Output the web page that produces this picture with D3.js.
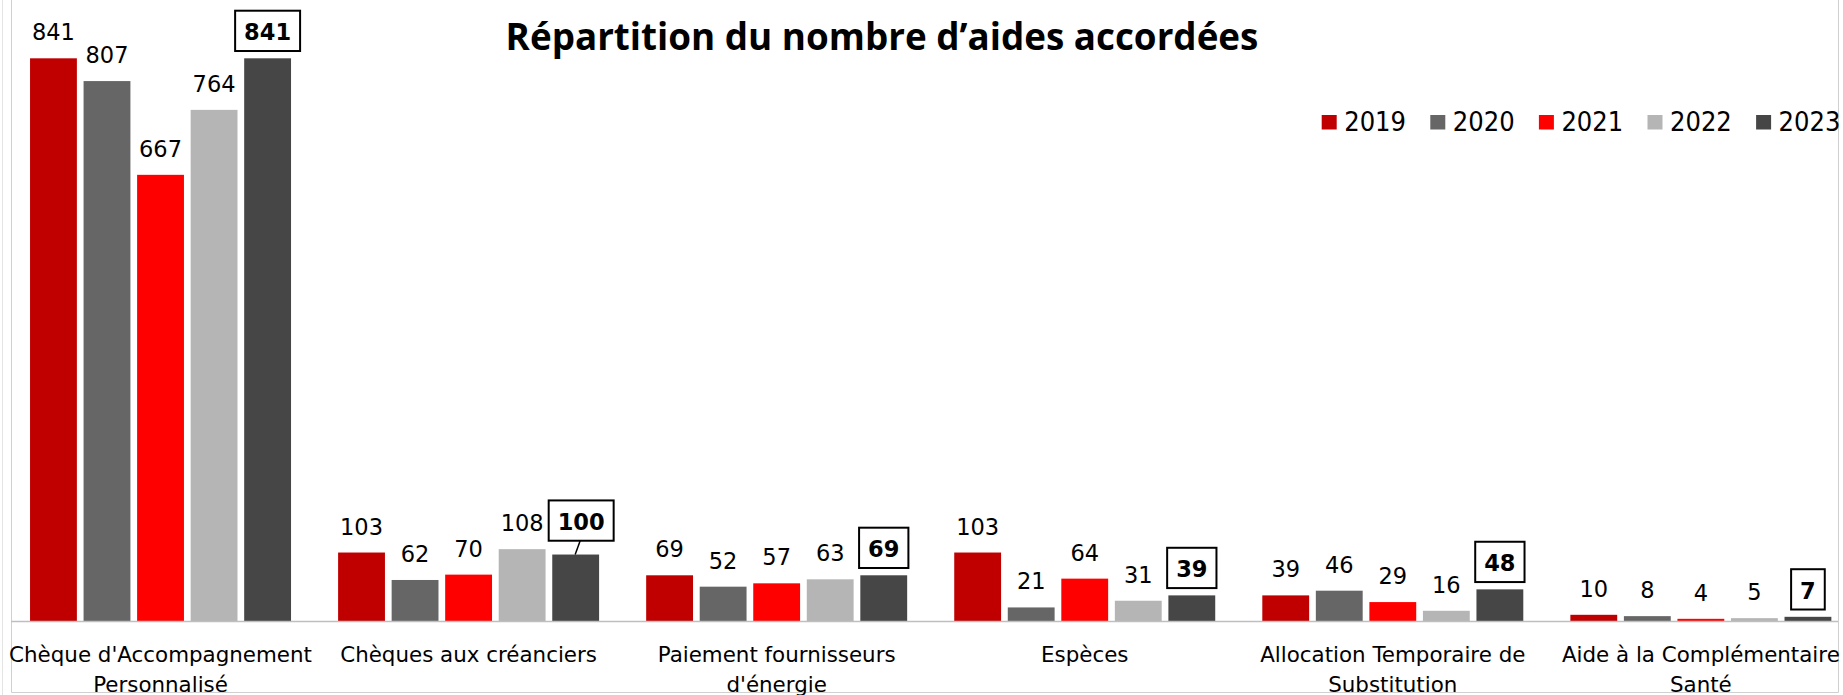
<!DOCTYPE html>
<html lang="fr">
<head>
    <meta charset="UTF-8">
    <title>Répartition du nombre d'aides accordées</title>
    <style type="text/css">
        body { margin:0; background:#fff }
        svg { display:block }
        .lbl { font-family: "DejaVu Sans", Verdana, sans-serif; font-size:22.5px; fill:#000 }
        .cat { font-family: "DejaVu Sans", Verdana, sans-serif; font-size:21.4px; fill:#000 }
        .leg { font-family: "DejaVu Sans Condensed", "DejaVu Sans", sans-serif; font-stretch:condensed; font-size:27px; fill:#000 }
        .title { font-family: "Open Sans", "Noto Sans", sans-serif; font-weight:bold; font-size:36.8px; fill:#000 }
    </style>
</head>
<body>
<script src="https://cdnjs.cloudflare.com/ajax/libs/d3/7.8.5/d3.min.js"></script>
<script>
    var categories = [
        "Chèque d'Accompagnement\nPersonnalisé",
        "Chèques aux créanciers",
        "Paiement fournisseurs\nd'énergie",
        "Espèces",
        "Allocation Temporaire de\nSubstitution",
        "Aide à la Complémentaire\nSanté"
    ];
    var years = ["2019", "2020", "2021", "2022", "2023"];
    var v2019 = [841, 103, 69, 103, 39, 10];
    var v2020 = [807, 62, 52, 21, 46, 8];
    var v2021 = [667, 70, 57, 64, 29, 4];
    var v2022 = [764, 108, 63, 31, 16, 5];
    var v2023 = [841, 100, 69, 39, 48, 7];
    var colors = ["#c00000", "#666666", "#ff0000", "#b5b5b5", "#464646"];

    var series = [v2019, v2020, v2021, v2022, v2023];

    var width = 1843,
        height = 695,
        baseY = 621.5,
        svg = d3.select('body').append('svg')
                .attr('width', width)
                .attr('height', height);

    var xScale = d3.scaleBand().domain(categories)
                   .range([6.5, 1854.9]).paddingInner(0.1528).paddingOuter(0.0764);
    var xInner = d3.scaleBand().domain(years)
                   .range([0, xScale.bandwidth()]).paddingInner(0.125).paddingOuter(0);
    var yScale = d3.scaleLinear().domain([0, 900]).range([baseY, 18.8]);

    // chart frame
    svg.append('line').attr('x1', 2.5).attr('x2', 2.5).attr('y1', 0).attr('y2', 695)
       .attr('stroke', '#e4e4e4').attr('stroke-width', 1);
    svg.append('path')
       .attr('d', 'M11.5,0V692.5H1838.5V0')
       .attr('fill', 'none').attr('stroke', '#d0d0d0').attr('stroke-width', 1);

    // flat records for bars
    var bars = [];
    categories.forEach(function(c, ci) {
        years.forEach(function(y, si) {
            bars.push({cat: c, ci: ci, year: y, si: si, value: series[si][ci]});
        });
    });

    var groups = svg.append('g').attr('class', 'bars');
    groups.selectAll('rect')
       .data(bars)
       .enter()
       .append('rect')
       .attr('x', function(d) { return xScale(d.cat) + xInner(d.year); })
       .attr('y', function(d) { return yScale(d.value); })
       .attr('width', xInner.bandwidth())
       .attr('height', function(d) { return baseY - yScale(d.value); })
       .attr('fill', function(d) { return colors[d.si]; });

    // x axis line
    svg.append('line')
       .attr('x1', 11).attr('x2', 1838)
       .attr('y1', baseY).attr('y2', baseY)
       .attr('stroke', '#bfbfbf').attr('stroke-width', 1.5);

    // category labels (wrapped on \n)
    var cats = svg.append('g').selectAll('text')
       .data(categories)
       .enter()
       .append('text')
       .attr('class', 'cat')
       .attr('text-anchor', 'middle')
       .attr('x', function(d) { return xScale(d) + xScale.bandwidth() / 2; })
       .attr('y', 662);
    cats.each(function(d) {
        var t = d3.select(this);
        d.split('\n').forEach(function(line, i) {
            t.append('tspan')
             .attr('x', t.attr('x'))
             .attr('dy', i === 0 ? 0 : 29.5)
             .text(line);
        });
    });

    // data labels, 2019-2022 plain
    var plain = bars.filter(function(d) { return d.si < 4; });
    svg.append('g').selectAll('text')
       .data(plain)
       .enter()
       .append('text')
       .attr('class', 'lbl')
       .attr('text-anchor', 'middle')
       .attr('x', function(d) { return xScale(d.cat) + xInner(d.year) + xInner.bandwidth() / 2; })
       .attr('y', function(d) { return yScale(d.value) - 18; })
       .text(function(d) { return d.value; });

    // 2023 labels: bold in a black box
    var boxed = bars.filter(function(d) { return d.si === 4; });
    // the "100" label was dragged a bit up and right in the original
    var moved = {1: {dx: 5.5, dy: -6.5}};

    var bl = svg.append('g').selectAll('g')
       .data(boxed)
       .enter()
       .append('g')
       .attr('transform', function(d) {
           var m = moved[d.ci] || {dx: 0, dy: 0};
           var cx = xScale(d.cat) + xInner(d.year) + xInner.bandwidth() / 2 + m.dx;
           var by = yScale(d.value) - 18.3 + m.dy;
           return 'translate(' + cx + ',' + by + ')';
       });

    bl.append('text')
      .attr('class', 'lbl')
      .attr('text-anchor', 'middle')
      .style('font-weight', 'bold')
      .text(function(d) { return d.value; });

    bl.insert('rect', 'text')
      .attr('fill', '#fff')
      .attr('stroke', '#000')
      .attr('stroke-width', 2)
      .attr('y', -29.3)
      .attr('height', 40.3)
      .attr('width', function() {
          return this.parentNode.querySelector('text').getComputedTextLength() + 18;
      })
      .attr('x', function() {
          return -(this.parentNode.querySelector('text').getComputedTextLength() + 18) / 2;
      });

    // leader line for moved label
    boxed.filter(function(d) { return moved[d.ci]; }).forEach(function(d) {
        var m = moved[d.ci];
        var cx = xScale(d.cat) + xInner(d.year) + xInner.bandwidth() / 2;
        svg.append('line')
           .attr('x1', cx + m.dx - 1).attr('y1', yScale(d.value) - 18.3 + m.dy + 11)
           .attr('x2', cx - 0.5).attr('y2', yScale(d.value))
           .attr('stroke', '#000').attr('stroke-width', 1.5);
    });

    // title
    svg.append('text')
       .attr('class', 'title')
       .attr('text-anchor', 'middle')
       .attr('x', 882)
       .attr('y', 50)
       .text('Répartition du nombre d’aides accordées');

    // legend
    var legX = d3.scaleBand().domain(years).range([1321.7, 1321.7 + 5 * 108.6]);
    var leg = svg.append('g').selectAll('g')
       .data(years)
       .enter()
       .append('g')
       .attr('transform', function(d) { return 'translate(' + legX(d) + ',0)'; });
    leg.append('rect')
       .attr('x', 0).attr('y', 115)
       .attr('width', 15).attr('height', 14.5)
       .attr('fill', function(d, i) { return colors[i]; });
    leg.append('text')
       .attr('class', 'leg')
       .attr('x', 22.5)
       .attr('y', 131)
       .text(function(d) { return d; });
</script>
</body>
</html>
